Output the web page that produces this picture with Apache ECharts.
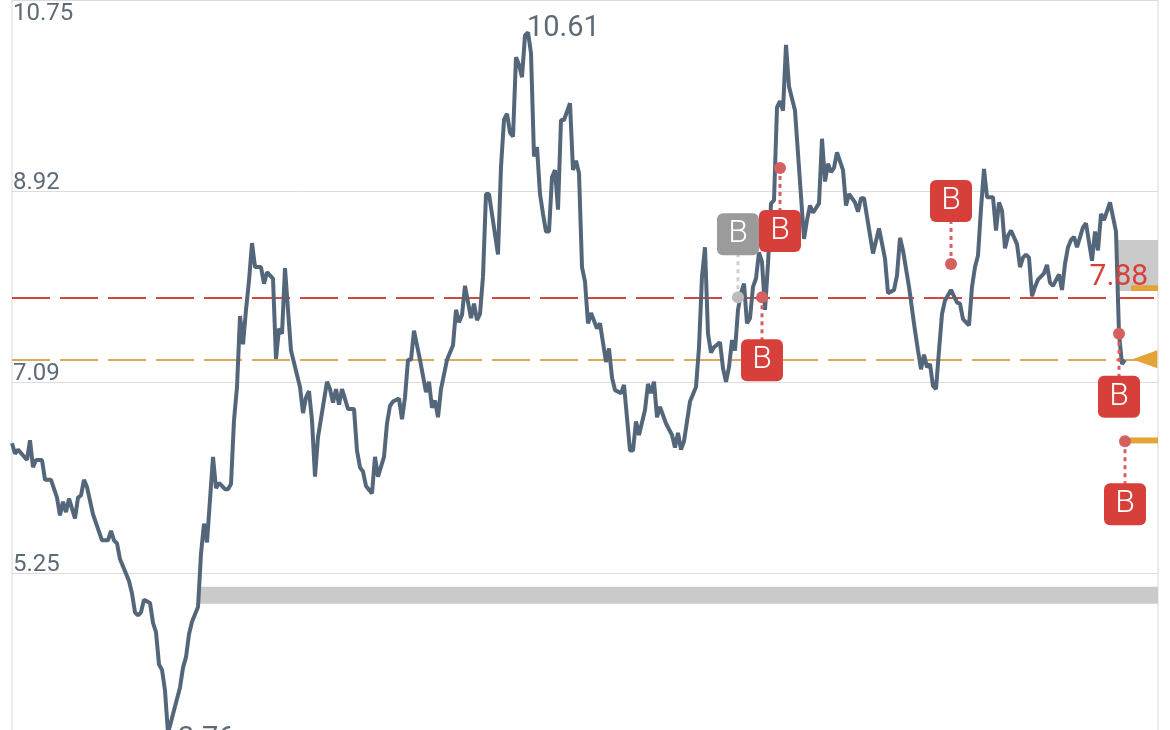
<!DOCTYPE html>
<html>
<head>
<meta charset="UTF-8">
<style>
html, body { margin: 0; padding: 0; background: #fff; overflow: hidden; }
#chart { width: 1170px; height: 770px; }
</style>
</head>
<body>
<div id="chart"></div>
<script src="https://cdn.jsdelivr.net/npm/echarts@6/dist/echarts.min.js"></script>
<script>
// turning points of the price line: day number and price
var days = [0,1,2,5,6,7,8,10,11,13,15,16,17,18,19,21,22,23,24,25,27,30,32,33,34,35,36,39,40,41,42,43,44,46,47,48,49,50,51,52,56,57,58,59,60,62,63,64,65,67,68,69,71,72,73,74,75,76,77,78,79,80,81,83,84,85,87,88,89,90,91,92,93,96,97,98,99,100,101,102,105,106,107,108,109,110,112,114,115,116,117,118,120,121,122,124,125,126,127,129,130,131,132,133,134,136,138,139,140,141,142,143,145,147,148,149,150,151,153,154,155,156,157,158,159,162,163,164,165,166,167,168,169,170,171,172,173,174,175,176,177,178,179,180,181,182,183,184,186,187,188,189,190,191,192,193,195,196,198,199,200,201,203,204,206,207,208,209,211,212,213,214,215,216,218,220,221,222,223,224,226,228,229,230,231,232,233,234,236,237,238,239,240,241,242,243,244,245,246,247,248,249,250,251,252,253,254,255,256,257,258,259,261,264,265,266,267,269,270,271,272,273,274,275,277,278,279,281,282,283,284,287,289,291,292,294,295,296,297,299,301,302,303,304,305,306,307,308,309,310,311,313,315,316,317,319,320,321,322,323,324,325,327,328,329,330,331,332,333,335,336,337,338,339,340,341,342,344,345,346,347,349,350,351,352,353,354,355,357,358,360,361,362,363,364,366,368,369,370,371];
var prices = [6.50,6.40,6.44,6.34,6.53,6.27,6.34,6.34,6.15,6.15,5.98,5.81,5.94,5.84,5.97,5.78,5.98,6.00,6.15,6.08,5.82,5.57,5.57,5.66,5.57,5.54,5.39,5.18,5.06,4.88,4.85,4.88,5.00,4.97,4.78,4.69,4.38,4.33,4.13,3.72,4.16,4.35,4.45,4.67,4.79,4.93,5.44,5.73,5.55,6.37,6.07,6.12,6.06,6.06,6.11,6.72,7.04,7.72,7.45,7.78,8.06,8.42,8.19,8.19,8.03,8.14,8.08,7.31,7.60,7.55,8.18,7.78,7.39,7.04,6.79,6.94,7.00,6.72,6.18,6.56,7.09,7.02,6.89,7.02,6.87,7.02,6.83,6.83,6.43,6.27,6.23,6.09,6.02,6.37,6.18,6.37,6.69,6.86,6.90,6.93,6.73,6.94,7.30,7.30,7.58,7.30,6.99,7.09,6.84,6.91,6.75,7.02,7.30,7.44,7.78,7.66,7.73,8.01,7.70,7.84,7.68,7.74,8.10,8.89,8.89,8.31,9.15,9.60,9.66,9.48,9.44,10.20,10.13,10.01,10.41,10.44,10.24,9.25,9.34,8.89,8.70,8.53,8.53,9.05,9.12,8.74,9.60,9.60,9.76,9.12,9.21,9.09,8.19,8.05,7.65,7.75,7.60,7.65,7.28,7.41,7.13,7.01,6.98,7.06,6.43,6.43,6.71,6.58,6.82,7.07,6.98,7.09,6.75,6.85,6.69,6.58,6.46,6.60,6.44,6.52,6.90,7.04,7.42,8.10,8.38,7.55,7.37,7.42,7.47,7.22,7.09,7.23,7.49,7.39,7.78,7.94,8.03,7.65,7.70,8.00,8.08,8.33,8.24,7.78,8.22,8.80,8.83,9.72,9.78,9.69,10.32,9.92,9.69,8.46,8.64,8.78,8.71,8.80,9.42,9.01,9.18,9.10,9.14,9.29,9.12,8.78,8.89,8.81,8.72,8.85,8.85,8.32,8.56,8.27,7.94,7.97,8.11,8.47,8.35,8.00,7.58,7.39,7.21,7.35,7.23,7.26,7.05,7.02,7.39,7.74,7.87,7.97,7.85,7.84,7.69,7.63,8.00,8.19,8.30,8.75,9.13,8.86,8.86,8.54,8.81,8.73,8.37,8.49,8.54,8.41,8.19,8.28,8.31,8.28,7.91,8.00,8.07,8.13,8.21,8.04,8.01,8.12,7.97,8.22,8.38,8.45,8.48,8.38,8.57,8.61,8.25,8.53,8.35,8.70,8.64,8.81,8.53,7.55,7.26,7.30];

var tickLabels = ['3.42', '5.25', '7.09', '8.92', '10.75'];

var redLevel = 7.90;
var goldLevel = 7.305;

// buy markers: day, price, box side (-1 above the dot, 1 below), active
var buyDays = [242, 256, 250, 313, 369, 371];
var buyPrices = [7.90, 9.14, 7.90, 8.22, 7.55, 6.52];
var buySides = [-1, 1, 1, -1, 1, 1];
var buyActive = [0, 1, 1, 1, 1, 1];

var highDay = 172, highPrice = 10.44, highText = '10.61';
var lowDay = 52, lowPrice = 3.72, lowText = '3.76';
var lastText = '7.88';

var chart = echarts.init(document.getElementById('chart'));

var font = 'Roboto';
var slate = '#54667a';
var labelGrey = '#5d6b79';
var red = '#d7403a';
var gold = '#e4a336';
var grey = '#cacaca';

function buyItem(params, api) {
	var day = api.value(0), price = api.value(1), side = api.value(2), active = api.value(3);
	var p = api.coord([day, price]);
	var boxY = p[1] + side * 63;
	var dotColor = active ? '#d46060' : '#bcbcbc';
	var lineColor = active ? '#d46060' : '#cfcfcf';
	var boxColor = active ? red : '#9b9b9b';
	return {
		type: 'group',
		children: [
			{ type: 'line', shape: { x1: p[0], y1: p[1], x2: p[0], y2: boxY }, style: { stroke: lineColor, lineWidth: 3, lineDash: [4, 4] } },
			{ type: 'circle', shape: { cx: p[0], cy: p[1], r: 6 }, style: { fill: dotColor } },
			{ type: 'rect', shape: { x: p[0] - 21, y: boxY - 21, width: 42, height: 42, r: 6 }, style: { fill: boxColor } },
			{ type: 'text', x: p[0], y: boxY, style: { text: 'B', fill: '#fff', font: '300 32px ' + font, align: 'center', verticalAlign: 'middle' } }
		]
	};
}

var buyData = buyDays.map(function (d, i) {
	return [d, buyPrices[i], buySides[i], buyActive[i]];
});

chart.setOption({
	animation: false,
	grid: { left: 12, top: 0, width: 1146, height: 764.6, show: true, backgroundColor: 'transparent', borderColor: '#ececec', borderWidth: 2 },
	xAxis: { type: 'value', min: 0, max: 382, show: false },
	yAxis: [
		{ type: 'value', min: 3.42, max: 10.75, show: false },
		{
			// tick rows live on their own 0..4 axis because the prices are not multiples of one step
			type: 'value', min: 0, max: 4, interval: 1, position: 'left',
			axisLine: { show: false }, axisTick: { show: false },
			splitLine: { show: true, lineStyle: { color: '#dddddd', width: 1 } },
			axisLabel: {
				inside: true, margin: 1, fontFamily: font, fontSize: 24, color: labelGrey,
				verticalAlign: 'bottom', verticalAlignMaxLabel: 'top', lineHeight: 17,
				formatter: function (v) { return v === 4 ? '{top|' + tickLabels[v] + '}' : tickLabels[v]; },
				rich: { top: { fontFamily: font, fontSize: 24, color: labelGrey, lineHeight: 28 } }
			}
		}
	],
	series: [
		{
			type: 'line',
			yAxisIndex: 0,
			data: days.map(function (d, i) { return [d, prices[i]]; }),
			showSymbol: false,
			symbol: 'none',
			lineStyle: { color: slate, width: 4 },
			z: 5,
			markLine: {
				silent: true,
				symbol: 'none',
				label: { show: false },
				data: [
					{ yAxis: redLevel, lineStyle: { color: '#d0483e', width: 2, type: [38, 10] } },
					{ yAxis: goldLevel, lineStyle: { color: '#d9ac5c', width: 2, type: [38, 10] } }
				]
			},
			markArea: {
				silent: true,
				data: [
					[{ coord: [62, 5.126], itemStyle: { color: grey } }, { coord: [382, 4.963] }],
					[{ coord: [368.3, 8.45], itemStyle: { color: grey } }, { coord: [382, 7.96] }],
					[{ coord: [373, 8.015], itemStyle: { color: gold } }, { coord: [382, 7.96] }],
					[{ coord: [372.7, 6.556], itemStyle: { color: gold } }, { coord: [382, 6.499] }]
				]
			},
			markPoint: {
				silent: true,
				z: 8,
				data: [
					{
						coord: [highDay, highPrice], symbolSize: 0,
						label: { show: true, formatter: highText, position: 'right', offset: [-6, -4], fontFamily: font, fontSize: 29, color: labelGrey }
					},
					{
						coord: [lowDay, lowPrice], symbolSize: 0,
						label: { show: true, formatter: lowText, position: 'right', offset: [5, 6], fontFamily: font, fontSize: 29, color: labelGrey }
					},
					{
						coord: [378.7, redLevel], symbolSize: 0,
						label: { show: true, formatter: lastText, position: 'left', offset: [5, -20], fontFamily: font, fontSize: 30, color: red }
					},
					{
						coord: [377.6, goldLevel], symbol: 'path://M0,9L25,0L25,18Z', symbolSize: [25, 18],
						itemStyle: { color: gold }, label: { show: false }
					}
				]
			}
		},
		{
			type: 'custom',
			yAxisIndex: 0,
			clip: false,
			z: 10,
			renderItem: buyItem,
			data: buyData
		}
	]
});
</script>
</body>
</html>
